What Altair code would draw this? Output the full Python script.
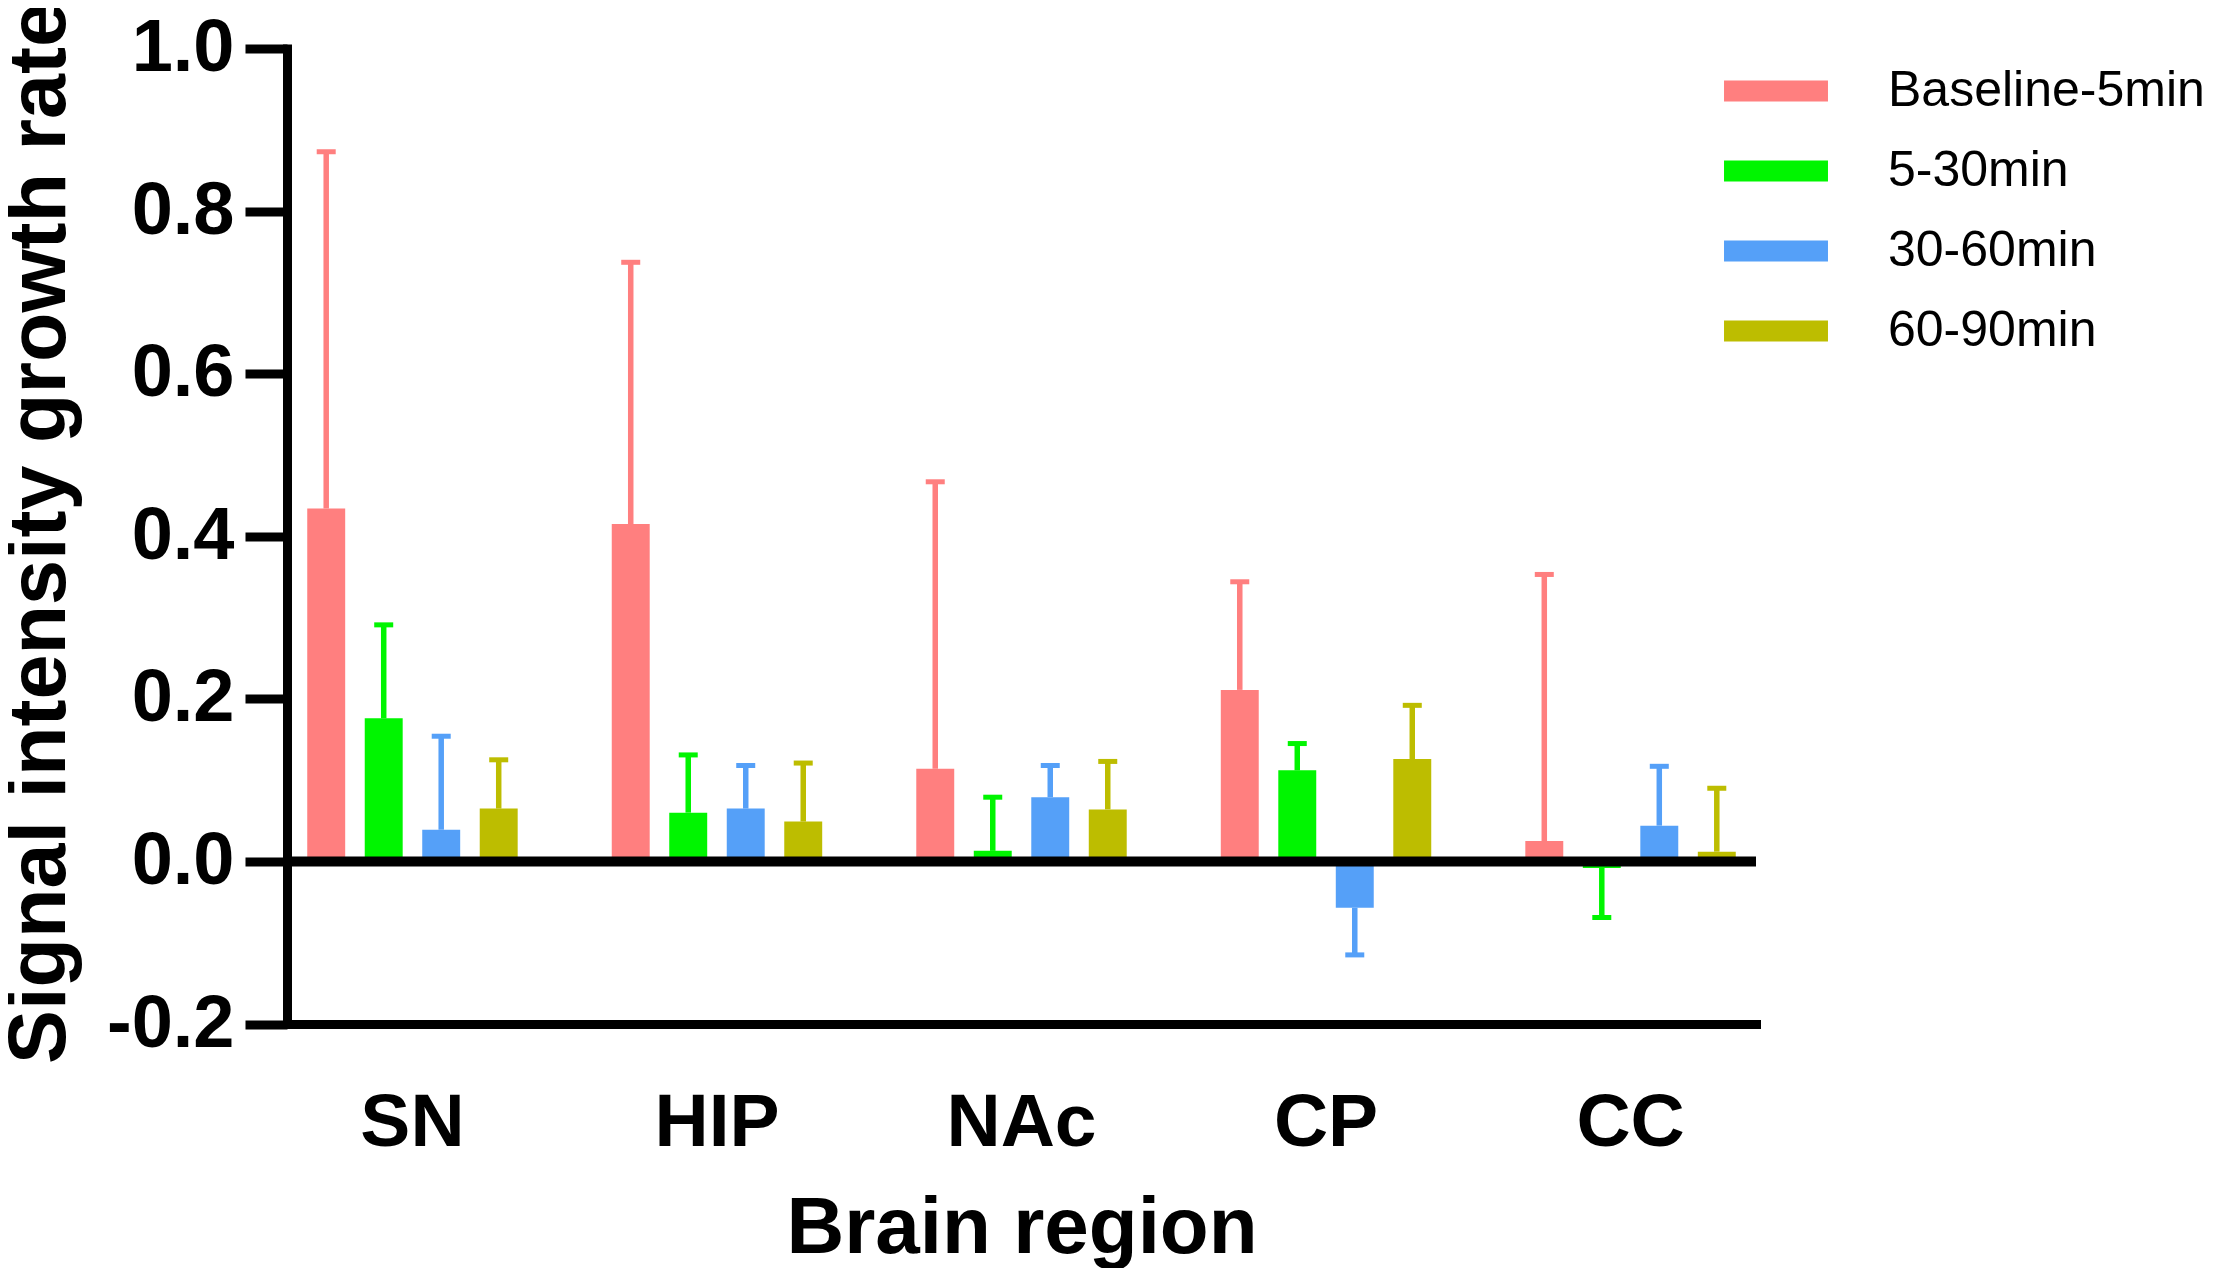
import altair as alt
import pandas as pd

# ---------------- data ----------------
regions = ["SN", "HIP", "NAc", "CP", "CC"]
series = ["Baseline-5min", "5-30min", "30-60min", "60-90min"]
colors = ["#FF7F7F", "#00F500", "#55A0F8", "#BDBD00"]

mean_baseline = [0.434, 0.415, 0.114, 0.211, 0.025]
mean_5_30 = [0.176, 0.060, 0.013, 0.112, -0.008]
mean_30_60 = [0.039, 0.065, 0.079, -0.057, 0.044]
mean_60_90 = [0.065, 0.049, 0.064, 0.126, 0.012]

sd_baseline = [0.439, 0.322, 0.353, 0.133, 0.328]
sd_5_30 = [0.115, 0.071, 0.066, 0.033, 0.061]
sd_30_60 = [0.115, 0.053, 0.039, 0.058, 0.073]
sd_60_90 = [0.060, 0.072, 0.059, 0.066, 0.078]

y_ticks = [-0.2, 0.0, 0.2, 0.4, 0.6, 0.8, 1.0]

means = [mean_baseline, mean_5_30, mean_30_60, mean_60_90]
sds = [sd_baseline, sd_5_30, sd_30_60, sd_60_90]

rows = []
for s, m_list, sd_list in zip(series, means, sds):
    for r, m, sd in zip(regions, m_list, sd_list):
        end = m + sd if m >= 0 else m - sd
        rows.append({"region": r, "series": s, "mean": m, "end": end})
df = pd.DataFrame(rows)

FONT = "Liberation Sans"

# ---------------- encodings ----------------
x_enc = alt.X(
    "region:N",
    sort=regions,
    scale=alt.Scale(paddingInner=0.25, paddingOuter=0.037),
    axis=alt.Axis(
        title="Brain region",
        labelAngle=0,
        ticks=False,
        tickSize=0,
        grid=False,
        domainWidth=9,
        domainColor="black",
        domainCap="square",
        labelFont=FONT,
        labelFontSize=75,
        labelFontWeight="bold",
        labelColor="black",
        labelBaseline="alphabetic",
        labelPadding=121,
        labelOverlap=False,
        titleFont=FONT,
        titleFontSize=80,
        titleFontWeight="bold",
        titleColor="black",
        titleBaseline="alphabetic",
        titleY=228,
    ),
)

xoff_enc = alt.XOffset(
    "series:N", sort=series, scale=alt.Scale(paddingInner=0.34, paddingOuter=0.156)
)

y_scale = alt.Scale(domain=[-0.2, 1.0], nice=False, zero=False)
y_axis = alt.Axis(
    title="Signal intensity growth rate",
    values=y_ticks,
    labelExpr="datum.value < 0 ? '-' + format(-datum.value, '.1f') : format(datum.value, '.1f')",
    grid=False,
    domainWidth=9,
    domainColor="black",
    domainCap="square",
    tickWidth=9,
    tickSize=42,
    tickColor="black",
    labelFont=FONT,
    labelFontSize=74,
    labelFontWeight="bold",
    labelColor="black",
    labelPadding=11,
    labelFlush=False,
    labelOverlap=False,
    titleFont=FONT,
    titleFontSize=81,
    titleFontWeight="bold",
    titleColor="black",
    titleBaseline="alphabetic",
    titleAngle=270,
    titleX=-223,
    titleY=484,
)


def y_enc(field):
    return alt.Y(field, type="quantitative", scale=y_scale, axis=y_axis)


legend = alt.Legend(
    title=None,
    orient="none",
    legendX=1449.5,
    legendY=3,
    symbolType="M-1.316,-0.266H1.316V0.266H-1.316Z",
    symbolSize=6241,
    symbolStrokeWidth=0,
    symbolOpacity=1,
    labelFont=FONT,
    labelFontSize=50,
    labelColor="black",
    labelOffset=72.5,
    labelLimit=500,
    rowPadding=15,
    padding=0,
)

# legend colour scale (explicit domain); error-bar scales use data-derived domains
color_enc = alt.Color("series:N", sort=series, scale=alt.Scale(domain=series, range=colors), legend=legend)
stroke_enc = alt.Stroke("series:N", sort=series, scale=alt.Scale(range=colors), legend=None)
fill_enc = alt.Fill("series:N", sort=series, scale=alt.Scale(range=colors), legend=None)

base = alt.Chart(df)

bars = base.mark_bar(opacity=1).encode(
    x=x_enc, xOffset=xoff_enc, y=y_enc("mean"), color=color_enc
)

err = base.mark_rule(strokeWidth=5.5, opacity=1).encode(
    x=x_enc, xOffset=xoff_enc, y=y_enc("mean"), y2="end:Q", stroke=stroke_enc
)

caps = base.mark_tick(orient="horizontal", size=19, thickness=5, opacity=1).encode(
    x=x_enc, xOffset=xoff_enc, y=y_enc("end"), fill=fill_enc
)

zero = alt.Chart(pd.DataFrame({"z": [0.0]})).mark_rule(color="black", strokeWidth=10).encode(
    y=y_enc("z")
)

chart = (
    alt.layer(err, caps, bars, zero)
    .properties(
        width=1469,
        height=975.5,
        autosize=alt.AutoSizeParams(type="none"),
        padding={"left": 279, "top": 40.5, "right": 453, "bottom": 244},
        background="white",
    )
    .configure_view(strokeWidth=0)
)

chart.save("out.html", embed_options={"renderer": "svg", "actions": False})
